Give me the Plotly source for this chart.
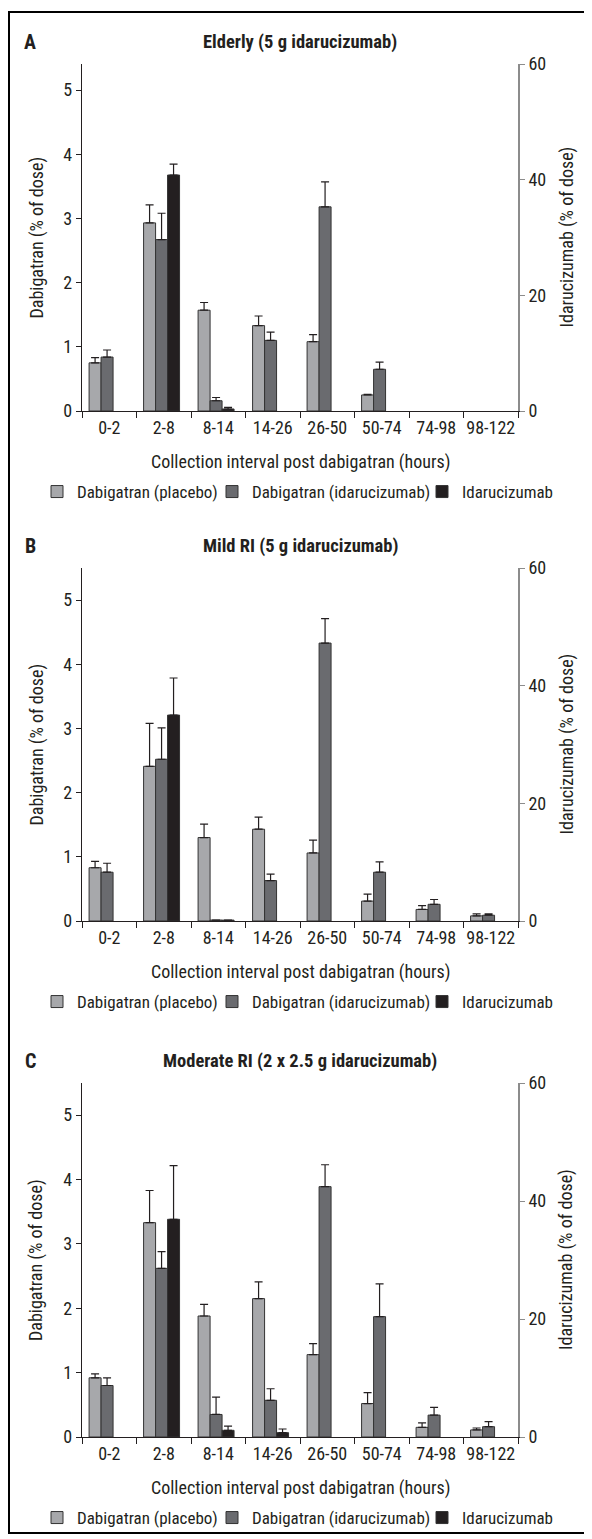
import plotly.graph_objects as go

# ---------------- data ----------------
categories = ["0-2", "2-8", "8-14", "14-26", "26-50", "50-74", "74-98", "98-122"]
series_names = ["Dabigatran (placebo)", "Dabigatran (idarucizumab)", "Idarucizumab"]
panel_letters = ["A", "B", "C"]
panel_titles = ["Elderly (5 g idarucizumab)", "Mild RI (5 g idarucizumab)",
                "Moderate RI (2 x 2.5 g idarucizumab)"]

# Panel A (dabigatran: % of dose, left axis; idarucizumab: % of dose, right axis)
a_placebo = [0.75, 2.93, 1.57, 1.33, 1.08, 0.25, None, None]
a_placebo_sd = [0.08, 0.28, 0.12, 0.15, 0.11, 0.01, None, None]
a_dabi = [0.84, 2.67, 0.16, 1.10, 3.18, 0.65, None, None]
a_dabi_sd = [0.11, 0.41, 0.05, 0.13, 0.39, 0.11, None, None]
a_idaru = [None, 40.8, 0.35, None, None, None, None, None]
a_idaru_sd = [None, 1.9, 0.28, None, None, None, None, None]

# Panel B
b_placebo = [0.83, 2.41, 1.30, 1.43, 1.06, 0.31, 0.18, 0.08]
b_placebo_sd = [0.10, 0.67, 0.21, 0.19, 0.20, 0.11, 0.06, 0.03]
b_dabi = [0.76, 2.52, 0.015, 0.63, 4.33, 0.76, 0.26, 0.09]
b_dabi_sd = [0.14, 0.49, None, 0.10, 0.38, 0.16, 0.075, 0.02]
b_idaru = [None, 35.0, 0.15, None, None, None, None, None]
b_idaru_sd = [None, 6.3, None, None, None, None, None, None]

# Panel C
c_placebo = [0.92, 3.33, 1.88, 2.15, 1.28, 0.52, 0.15, 0.11]
c_placebo_sd = [0.06, 0.50, 0.18, 0.26, 0.17, 0.17, 0.07, 0.03]
c_dabi = [0.80, 2.62, 0.35, 0.57, 3.89, 1.87, 0.34, 0.16]
c_dabi_sd = [0.12, 0.26, 0.27, 0.18, 0.34, 0.51, 0.12, 0.08]
c_idaru = [None, 36.9, 1.13, 0.73, None, None, None, None]
c_idaru_sd = [None, 9.1, 0.73, 0.63, None, None, None, None]

left_ticks = [0, 1, 2, 3, 4, 5]
right_ticks = [0, 20, 40, 60]
left_max = [5.405, 5.5, 5.5]
right_max = 60

# ---------------- styling / layout ----------------
PAGE_W, PAGE_H = 592, 1539
OFF = 8                                # default <body> margin of the page
W, H = PAGE_W - OFF, PAGE_H - OFF
FONT = "Roboto Condensed, DejaVu Sans Condensed, sans-serif"
FS = 18
LEG_FS = 17
TXT = "#231f20"
COLORS = ["#a7a8ab", "#6a6b6f", "#231f20"]
OUTLINE = "#333333"
RIGHT_AXIS = "#8c8c8c"
BAR_W = 0.22
OFFSETS = [-0.37, -0.15, 0.07]
LEG_W = [130, 165, None]

X0, X1 = 82, 518                      # plot area, page px
panel_px = [(64, 411), (568, 921), (1083, 1437)]   # (top, bottom) page px


def py(px):
    return 1 - (px - OFF) / H


def pxx(px):
    return (px - OFF) / W


panels = [
    (a_placebo, a_placebo_sd, a_dabi, a_dabi_sd, a_idaru, a_idaru_sd),
    (b_placebo, b_placebo_sd, b_dabi, b_dabi_sd, b_idaru, b_idaru_sd),
    (c_placebo, c_placebo_sd, c_dabi, c_dabi_sd, c_idaru, c_idaru_sd),
]

fig = go.Figure()
layout = dict(
    width=W, height=H, autosize=False,
    margin=dict(l=0, r=0, t=0, b=0, autoexpand=False),
    paper_bgcolor="white", plot_bgcolor="white",
    font=dict(family=FONT, size=FS, color=TXT),
    showlegend=True,
)
annotations = []

for i, (pl, pl_sd, db, db_sd, idr, idr_sd) in enumerate(panels):
    top, bot = panel_px[i]
    xname = "x" if i == 0 else f"x{i + 1}"
    yl = 2 * i + 1
    yr = 2 * i + 2
    ylname = "y" if yl == 1 else f"y{yl}"
    yrname = f"y{yr}"
    legname = "legend" if i == 0 else f"legend{i + 1}"

    vals = [pl, db, idr]
    sds = [pl_sd, db_sd, idr_sd]
    for k in range(3):
        tr = dict(
            x=categories, y=vals[k],
            name=series_names[k],
            xaxis=xname, yaxis=(yrname if k == 2 else ylname),
            width=BAR_W, offset=OFFSETS[k],
            marker=dict(color=COLORS[k], line=dict(color=OUTLINE, width=1)),
            error_y=dict(type="data", symmetric=False, array=sds[k],
                         arrayminus=[0] * len(categories),
                         color=TXT, thickness=1.2, width=4),
            legend=legname, showlegend=True,
        )
        if LEG_W[k] is not None:
            tr["legendwidth"] = LEG_W[k]
        fig.add_trace(go.Bar(**tr))

    dom_y = [py(bot), py(top)]
    xkey = "xaxis" if i == 0 else f"xaxis{i + 1}"
    ylkey = "yaxis" if yl == 1 else f"yaxis{yl}"
    yrkey = f"yaxis{yr}"
    layout[xkey] = dict(
        domain=[pxx(X0), pxx(X1)], anchor=ylname, type="category",
        categoryorder="array", categoryarray=categories, range=[-0.5, 7.5],
        showline=True, linecolor=TXT, linewidth=1.3, mirror=False,
        ticks="outside", tickson="boundaries", ticklen=6, tickwidth=1.2,
        tickcolor=TXT, tickangle=0, tickfont=dict(size=FS, family=FONT, color=TXT),
        showgrid=False, zeroline=False, fixedrange=True,
    )
    layout[ylkey] = dict(
        domain=dom_y, anchor=xname, range=[0, left_max[i]],
        tickvals=left_ticks, ticks="outside", ticklen=5, tickwidth=1.2,
        tickcolor=TXT, showline=True, linecolor=TXT, linewidth=1.3,
        tickfont=dict(size=FS, family=FONT, color=TXT),
        showgrid=False, zeroline=False, fixedrange=True,
    )
    layout[yrkey] = dict(
        overlaying=ylname, side="right", anchor=xname, range=[0, right_max],
        tickvals=right_ticks, ticks="outside", ticklen=5, tickwidth=1.2,
        tickcolor=RIGHT_AXIS, showline=True, linecolor=RIGHT_AXIS, linewidth=1.6,
        tickfont=dict(size=FS, family=FONT, color=TXT),
        showgrid=False, zeroline=False, fixedrange=True,
    )

    # legend per panel
    leg_y = bot + 81
    layout[legname] = dict(
        orientation="h", x=pxx(37), xanchor="left", y=py(leg_y), yanchor="middle",
        font=dict(size=LEG_FS, family=FONT, color=TXT), bgcolor="rgba(0,0,0,0)",
        itemwidth=30, traceorder="normal", tracegroupgap=0,
        itemclick=False, itemdoubleclick=False,
    )

    # titles
    title_y = top - 22
    annotations.append(dict(
        text=f"<b>{panel_letters[i]}</b>", x=pxx(30), y=py(title_y),
        xref="paper", yref="paper", showarrow=False, xanchor="center",
        yanchor="middle", font=dict(size=20, family=FONT, color=TXT)))
    annotations.append(dict(
        text=f"<b>{panel_titles[i]}</b>", x=pxx((X0 + X1) / 2), y=py(title_y),
        xref="paper", yref="paper", showarrow=False, xanchor="center",
        yanchor="middle", font=dict(size=FS + 0.5, family=FONT, color=TXT)))
    # x axis title
    annotations.append(dict(
        text="Collection interval post dabigatran (hours)",
        x=pxx((X0 + X1) / 2), y=py(bot + 51), xref="paper", yref="paper",
        showarrow=False, xanchor="center", yanchor="middle",
        font=dict(size=FS, family=FONT, color=TXT)))
    # y axis titles
    mid = (top + bot) / 2
    annotations.append(dict(
        text="Dabigatran (% of dose)", x=pxx(36), y=py(mid),
        xref="paper", yref="paper", showarrow=False, textangle=-90,
        xanchor="center", yanchor="middle",
        font=dict(size=FS, family=FONT, color=TXT)))
    annotations.append(dict(
        text="Idarucizumab (% of dose)", x=pxx(566), y=py(mid),
        xref="paper", yref="paper", showarrow=False, textangle=-90,
        xanchor="center", yanchor="middle",
        font=dict(size=FS, family=FONT, color=TXT)))

layout["annotations"] = annotations
layout["shapes"] = [dict(
    type="rect", xref="paper", yref="paper",
    x0=pxx(OFF + 1), x1=pxx(586), y0=py(1533), y1=py(12),
    line=dict(color="black", width=2), fillcolor="rgba(0,0,0,0)", layer="above")]
layout["bargap"] = 0.3

fig.update_layout(**layout)
fig.write_html("out.html")
